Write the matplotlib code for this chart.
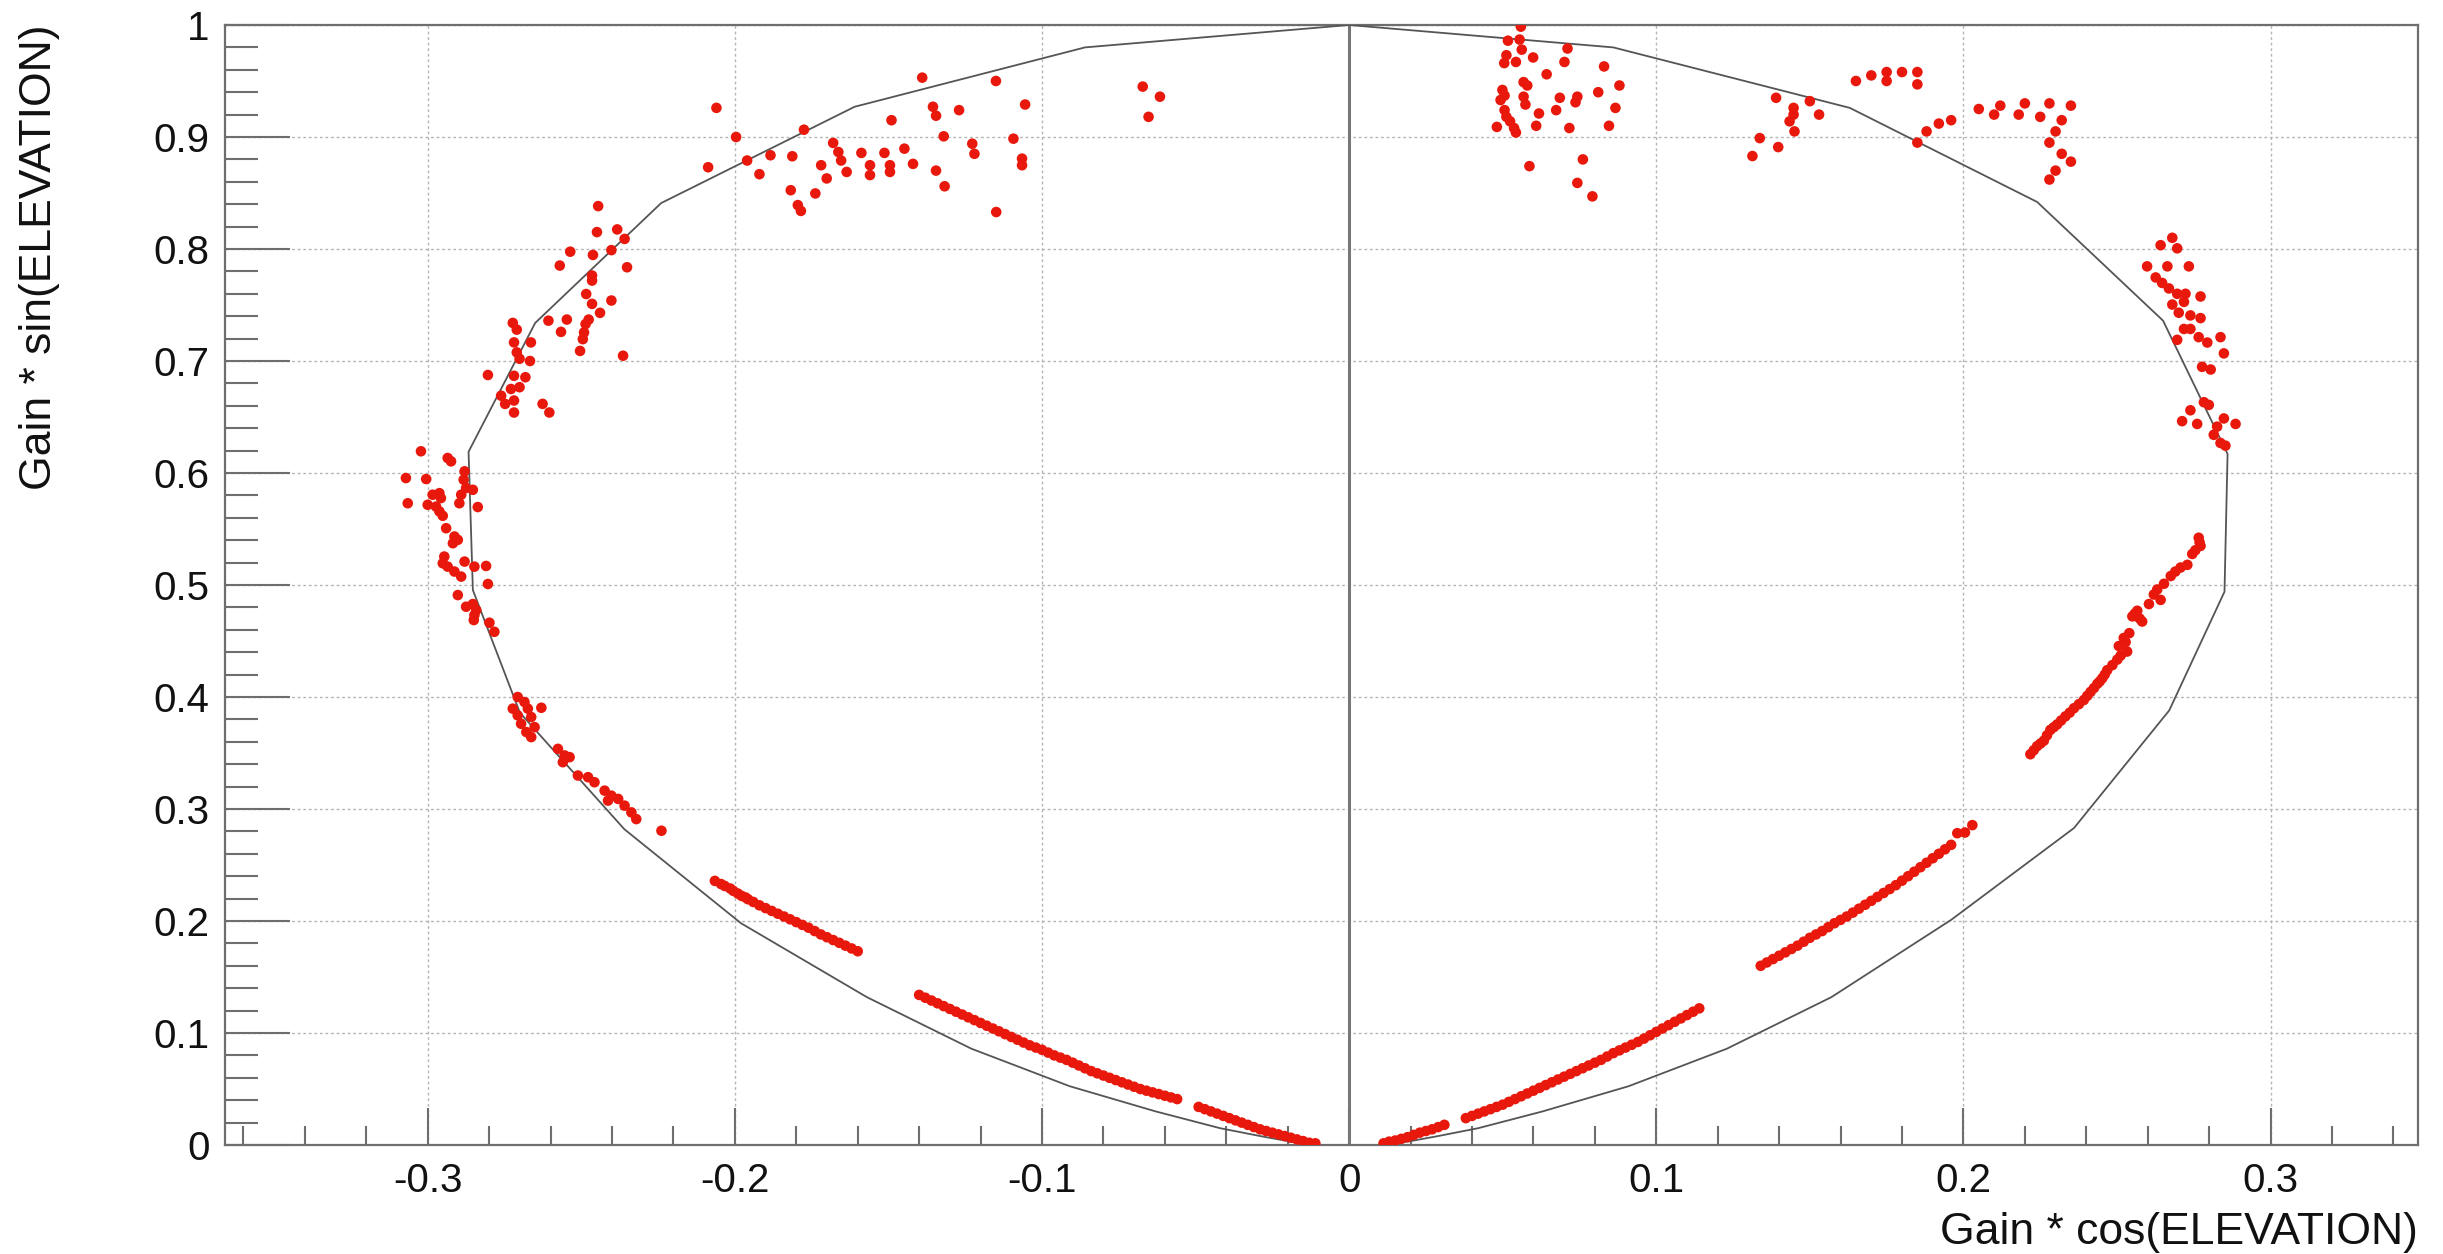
import numpy as np
import matplotlib
matplotlib.use("Agg")
import matplotlib.pyplot as plt

plt.rcParams['font.family'] = ['Liberation Sans', 'DejaVu Sans']

# envelope curve (gain pattern)
curve_x = [-0.012, -0.014, -0.020, -0.029, -0.042, -0.063, -0.091, -0.123, -0.157, -0.198,
           -0.236, -0.270, -0.2853, -0.2867, -0.265, -0.224, -0.161, -0.086, 0.0,
           0.086, 0.163, 0.224, 0.265, 0.286, 0.285, 0.267, 0.236, 0.196, 0.157, 0.123,
           0.091, 0.063, 0.042, 0.029, 0.020, 0.014, 0.012]
curve_y = [0.0, 0.001, 0.0035, 0.008, 0.015, 0.030, 0.0525, 0.086, 0.132, 0.198,
           0.282, 0.386, 0.4955, 0.619, 0.734, 0.841, 0.927, 0.980, 1.0,
           0.980, 0.926, 0.842, 0.736, 0.617, 0.494, 0.388, 0.283, 0.201, 0.132, 0.086,
           0.0525, 0.030, 0.015, 0.008, 0.0035, 0.001, 0.0]

# measured points, grouped by region
top_right_x = [0.0559, 0.0517, 0.0555, 0.0562, 0.0711, 0.0512, 0.0599, 0.0701, 0.0505, 0.0543,
               0.0830, 0.0643, 0.0568, 0.0580, 0.0880, 0.0499, 0.0506, 0.0811, 0.0686, 0.0743,
               0.0568, 0.0493, 0.0737, 0.0574, 0.0867, 0.0674, 0.0506, 0.0618, 0.0512, 0.0524,
               0.0481, 0.0537, 0.0609, 0.0717, 0.0846, 0.0543, 0.0761, 0.0587, 0.0743, 0.0792,
               0.139, 0.1447, 0.1447, 0.1434, 0.1337, 0.1397, 0.1313,
               0.165, 0.170, 0.175, 0.180, 0.185, 0.175, 0.185, 0.188, 0.192, 0.185, 0.196,
               0.205, 0.212, 0.220, 0.228, 0.235, 0.210, 0.218, 0.225, 0.232, 0.230, 0.228,
               0.232, 0.235, 0.230, 0.228, 0.150, 0.153, 0.145]
top_right_y = [0.9985, 0.986, 0.987, 0.978, 0.979, 0.973, 0.971, 0.967, 0.966, 0.967,
               0.963, 0.956, 0.949, 0.946, 0.946, 0.942, 0.937, 0.940, 0.935, 0.936,
               0.936, 0.933, 0.931, 0.929, 0.926, 0.924, 0.924, 0.921, 0.918, 0.914,
               0.909, 0.908, 0.910, 0.908, 0.910, 0.904, 0.880, 0.874, 0.859, 0.847,
               0.935, 0.926, 0.920, 0.914, 0.899, 0.891, 0.883,
               0.950, 0.955, 0.958, 0.958, 0.958, 0.950, 0.947, 0.905, 0.912, 0.895, 0.915,
               0.925, 0.928, 0.930, 0.930, 0.928, 0.920, 0.920, 0.918, 0.915, 0.905, 0.895,
               0.885, 0.878, 0.870, 0.862, 0.932, 0.920, 0.905]

top_left_x = [-0.139, -0.115, -0.0672, -0.0616, -0.0653, -0.206, -0.1355, -0.127, -0.1055, -0.1345,
              -0.149, -0.1775, -0.1996, -0.132, -0.1093, -0.1227, -0.168, -0.1884, -0.1813, -0.196,
              -0.2087, -0.1663, -0.1588, -0.1513, -0.1448, -0.122, -0.1065, -0.1065, -0.1719, -0.1654,
              -0.1636, -0.156, -0.156, -0.1495, -0.1495, -0.142, -0.1345, -0.192, -0.1701, -0.1317,
              -0.1818, -0.1738, -0.1795, -0.1785, -0.1149]
top_left_y = [0.953, 0.950, 0.945, 0.936, 0.918, 0.926, 0.927, 0.924, 0.929, 0.919,
              0.915, 0.9065, 0.900, 0.9006, 0.8985, 0.894, 0.8947, 0.8837, 0.8828, 0.879,
              0.873, 0.8866, 0.8858, 0.8858, 0.8896, 0.885, 0.8807, 0.8748, 0.8748, 0.879,
              0.8688, 0.8748, 0.866, 0.8748, 0.8688, 0.876, 0.870, 0.8668, 0.863, 0.856,
              0.8525, 0.8496, 0.8392, 0.834, 0.833]

upper_left_x = [-0.2445, -0.2449, -0.2383, -0.2359, -0.2536, -0.2462, -0.2402, -0.257, -0.2351, -0.2465,
                -0.2465, -0.2484, -0.2402, -0.2465, -0.2439, -0.2607, -0.2547, -0.2476, -0.2486, -0.2566,
                -0.2491, -0.2495, -0.2504, -0.2364,
                -0.2723, -0.271, -0.2719, -0.2664, -0.271, -0.2701, -0.2667, -0.2804, -0.2719, -0.2682,
                -0.2729, -0.2701, -0.2761, -0.2719, -0.2748, -0.2719, -0.2626, -0.2604]
upper_left_y = [0.8383, 0.8151, 0.8175, 0.809, 0.7976, 0.7947, 0.799, 0.7852, 0.7837, 0.7763,
                0.7718, 0.7598, 0.754, 0.751, 0.743, 0.736, 0.737, 0.737, 0.733, 0.726,
                0.7255, 0.7195, 0.709, 0.7047,
                0.734, 0.728, 0.7166, 0.7166, 0.7077, 0.702, 0.700, 0.6875, 0.6868, 0.6855,
                0.675, 0.6766, 0.669, 0.6647, 0.6617, 0.654, 0.6617, 0.654]

left_x = [-0.3022, -0.2935, -0.2924, -0.3071, -0.3005, -0.288, -0.2883, -0.2875, -0.2853, -0.2984,
          -0.2962, -0.2957, -0.2891, -0.2897, -0.3065, -0.300, -0.2973, -0.2837, -0.2962, -0.2951,
          -0.294, -0.2913, -0.2902, -0.2918, -0.2946, -0.2951, -0.2935, -0.288, -0.2848, -0.281,
          -0.2913, -0.2891, -0.2804, -0.2902, -0.2875, -0.2853, -0.2842, -0.2848, -0.285, -0.2799,
          -0.2783,
          -0.2707, -0.2685, -0.2723, -0.2674, -0.263, -0.2707, -0.2663, -0.2696, -0.2652, -0.2679,
          -0.2663, -0.2576, -0.2554, -0.2538, -0.256, -0.2511, -0.2478, -0.2457, -0.2424, -0.2402,
          -0.2413, -0.238, -0.2359, -0.2337, -0.2321, -0.2239]
left_y = [0.6194, 0.6134, 0.6104, 0.5955, 0.5946, 0.6015, 0.594, 0.5866, 0.585, 0.5806,
          0.582, 0.5776, 0.5806, 0.573, 0.573, 0.5716, 0.570, 0.5696, 0.5657, 0.5618,
          0.5507, 0.5433, 0.5403, 0.5373, 0.5254, 0.5194, 0.5164, 0.5209, 0.5164, 0.517,
          0.512, 0.5075, 0.5009, 0.491, 0.4806, 0.483, 0.4776, 0.4731, 0.4687, 0.4663,
          0.4582,
          0.400, 0.3955, 0.3896, 0.3896, 0.3904, 0.3836, 0.3821, 0.3761, 0.3731, 0.3687,
          0.3642, 0.3537, 0.3478, 0.3463, 0.3418, 0.3299, 0.3284, 0.3239, 0.3164, 0.3119,
          0.3075, 0.309, 0.303, 0.297, 0.291, 0.2806]

# lower left arc (dense run of points)
low_left_x = [-0.2065, -0.2045, -0.2033, -0.2015, -0.2005, -0.199, -0.1978, -0.1965, -0.1957, -0.194,
              -0.192, -0.190, -0.188, -0.186, -0.184, -0.182, -0.180, -0.178, -0.176, -0.174,
              -0.172, -0.170, -0.168, -0.166, -0.164, -0.162, -0.160,
              -0.140, -0.138, -0.136, -0.134, -0.132, -0.130, -0.128, -0.126, -0.124, -0.122,
              -0.120, -0.118, -0.116, -0.114, -0.112, -0.110, -0.108, -0.106, -0.104, -0.102,
              -0.100, -0.098, -0.096, -0.094, -0.092, -0.090, -0.088, -0.086, -0.084, -0.082,
              -0.080, -0.078, -0.076, -0.074, -0.072, -0.070, -0.068, -0.066, -0.064, -0.062,
              -0.060, -0.058, -0.056,
              -0.049, -0.047, -0.045, -0.043, -0.041, -0.039, -0.037, -0.035, -0.033, -0.031,
              -0.029, -0.027, -0.025, -0.023, -0.021, -0.019, -0.017, -0.015, -0.013, -0.011]
low_left_y = [0.2358, 0.233, 0.2313, 0.229, 0.2269, 0.2245, 0.2224, 0.221, 0.2194, 0.217,
              0.214, 0.2115, 0.209, 0.2065, 0.204, 0.2015, 0.199, 0.1965, 0.194, 0.191,
              0.188, 0.1855, 0.183, 0.1805, 0.178, 0.1755, 0.173,
              0.134, 0.1315, 0.129, 0.1265, 0.124, 0.1215, 0.119, 0.1165, 0.114, 0.1115,
              0.109, 0.1065, 0.104, 0.1015, 0.099, 0.0965, 0.094, 0.0915, 0.089, 0.087,
              0.085, 0.0825, 0.080, 0.078, 0.076, 0.0735, 0.071, 0.0685, 0.066, 0.064,
              0.062, 0.060, 0.058, 0.056, 0.054, 0.052, 0.050, 0.0485, 0.047, 0.0455,
              0.044, 0.0425, 0.041,
              0.034, 0.032, 0.030, 0.028, 0.026, 0.024, 0.022, 0.020, 0.018, 0.016,
              0.014, 0.0125, 0.011, 0.0095, 0.008, 0.0065, 0.005, 0.0035, 0.002, 0.0015]

right_x = [0.268, 0.2642, 0.2696, 0.2598, 0.2664, 0.2734, 0.2626, 0.2647, 0.2669, 0.2696,
           0.2723, 0.2772, 0.268, 0.2718, 0.2701, 0.2739, 0.2772, 0.2718, 0.2739, 0.2766,
           0.2794, 0.2837, 0.2848, 0.2696, 0.2777, 0.2805, 0.2783, 0.2799, 0.2739, 0.2761,
           0.2712, 0.2826, 0.2848, 0.2886, 0.2815, 0.2837, 0.2853]
right_y = [0.810, 0.8034, 0.8006, 0.7845, 0.7845, 0.7845, 0.7746, 0.7697, 0.7648, 0.760,
           0.760, 0.7576, 0.7504, 0.7528, 0.7431, 0.7407, 0.7383, 0.7286, 0.7286, 0.7213,
           0.7165, 0.7213, 0.7068, 0.7189, 0.6948, 0.6924, 0.6632, 0.6608, 0.656, 0.6438,
           0.6463, 0.6414, 0.6487, 0.6438, 0.6341, 0.6268, 0.6244]

# lower right arc (dense run of points)
low_right_x = [0.2766, 0.2772, 0.2745, 0.2707, 0.2729, 0.2653, 0.262, 0.2642, 0.2566, 0.255,
               0.2582, 0.2522, 0.2506, 0.2533, 0.2501, 0.2468, 0.2452, 0.2436, 0.2414, 0.2392,
               0.236, 0.2332, 0.2305, 0.2283, 0.2262, 0.224, 0.2218,
               0.2229, 0.2251, 0.2272, 0.2294, 0.2318, 0.2346, 0.2376, 0.2403, 0.2425, 0.2444,
               0.246, 0.2485, 0.2512, 0.2528, 0.254, 0.2558, 0.2574, 0.2604, 0.2631, 0.2675,
               0.269, 0.2755, 0.2769,
               0.2029, 0.2005, 0.198, 0.196, 0.194, 0.192, 0.190, 0.188, 0.186, 0.184,
               0.182, 0.180, 0.178, 0.176, 0.174, 0.172, 0.170, 0.168, 0.166, 0.164,
               0.162, 0.160, 0.158, 0.156, 0.154, 0.152, 0.150, 0.148, 0.146, 0.144,
               0.142, 0.140, 0.138, 0.136, 0.134,
               0.114, 0.112, 0.110, 0.108, 0.106, 0.104, 0.102, 0.100, 0.098, 0.096,
               0.094, 0.092, 0.090, 0.088, 0.086, 0.084, 0.082, 0.080, 0.078, 0.076,
               0.074, 0.072, 0.070, 0.068, 0.066, 0.064, 0.062, 0.060, 0.058, 0.056,
               0.054, 0.052, 0.050, 0.048, 0.046, 0.044, 0.042, 0.040, 0.038,
               0.031, 0.029, 0.027, 0.025, 0.023, 0.021, 0.019, 0.017, 0.015, 0.013, 0.0112]
low_right_y = [0.5422, 0.5349, 0.5277, 0.5156, 0.518, 0.5011, 0.4915, 0.4867, 0.477, 0.472,
               0.4674, 0.4527, 0.4455, 0.4406, 0.4334, 0.4239, 0.4167, 0.4118, 0.4046, 0.3973,
               0.390, 0.3827, 0.3755, 0.3706, 0.361, 0.3561, 0.3489,
               0.3525, 0.3585, 0.3658, 0.373, 0.379, 0.386, 0.3936, 0.401, 0.408, 0.414,
               0.420, 0.4285, 0.437, 0.449, 0.457, 0.4745, 0.470, 0.483, 0.496, 0.508,
               0.512, 0.531, 0.538,
               0.2856, 0.279, 0.2784, 0.268, 0.264, 0.260, 0.256, 0.252, 0.248, 0.244,
               0.240, 0.236, 0.232, 0.2285, 0.225, 0.2215, 0.218, 0.2145, 0.211, 0.2075,
               0.204, 0.201, 0.198, 0.1945, 0.191, 0.188, 0.185, 0.1815, 0.178, 0.175,
               0.172, 0.169, 0.166, 0.163, 0.160,
               0.122, 0.119, 0.116, 0.113, 0.110, 0.107, 0.104, 0.101, 0.098, 0.095,
               0.092, 0.0895, 0.087, 0.0845, 0.082, 0.079, 0.076, 0.0735, 0.071, 0.0685,
               0.066, 0.0635, 0.061, 0.0585, 0.056, 0.0535, 0.051, 0.0485, 0.046, 0.0435,
               0.041, 0.0385, 0.036, 0.034, 0.032, 0.030, 0.028, 0.026, 0.024,
               0.018, 0.016, 0.014, 0.0125, 0.011, 0.009, 0.007, 0.0055, 0.004, 0.003, 0.0015]

pts_x = top_right_x + top_left_x + upper_left_x + left_x + low_left_x + right_x + low_right_x
pts_y = top_right_y + top_left_y + upper_left_y + left_y + low_left_y + right_y + low_right_y

fig = plt.figure(figsize=(24.43, 12.54), dpi=100)
ax = fig.add_axes([225 / 2443, 109 / 1254, 2193 / 2443, 1120 / 1254])

ax.plot([0, 0], [0, 1], color='#777777', lw=2.2, zorder=2)
ax.plot(curve_x, curve_y, color='#555555', lw=1.3, zorder=3)
ax.scatter(pts_x, pts_y, s=58, color='#e8190c', edgecolors='none', zorder=4)

ax.set_xlim(-0.366, 0.348)
ax.set_ylim(0, 1)
ax.set_xticks(np.arange(-0.3, 0.31, 0.1))
ax.set_xticklabels(['-0.3', '-0.2', '-0.1', '0', '0.1', '0.2', '0.3'])
ax.set_xticks(np.arange(-0.36, 0.35, 0.02), minor=True)
ax.set_yticks(np.arange(0, 1.01, 0.1))
ax.set_yticklabels(['0', '0.1', '0.2', '0.3', '0.4', '0.5', '0.6', '0.7', '0.8', '0.9', '1'])
ax.set_yticks(np.arange(0, 1.001, 0.02), minor=True)

ax.grid(True, which='major', linestyle=(0, (2, 2)), color='#b5b5b5', lw=1.0)
ax.set_axisbelow(True)
for s in ax.spines.values():
    s.set_color('#6e6e6e')
    s.set_linewidth(1.6)

ax.tick_params(axis='both', which='both', direction='in', colors='#6e6e6e',
               labelcolor='#111111', width=1.5, labelsize=29, top=False, right=False)
ax.tick_params(axis='y', which='major', length=47, pad=11)
ax.tick_params(axis='y', which='minor', length=24)
ax.tick_params(axis='x', which='major', length=27, pad=12)
ax.tick_params(axis='x', which='minor', length=14)

fig.text(2418 / 2443, (1254 - 1212) / 1254, 'Gain * cos(ELEVATION)', ha='right', va='top',
         fontsize=32, color='#111111')
fig.text(40 / 2443, (1254 - 25) / 1254, 'Gain * sin(ELEVATION)', ha='center', va='top',
         rotation=90, fontsize=32, color='#111111')

plt.savefig('out.png', dpi=100)
